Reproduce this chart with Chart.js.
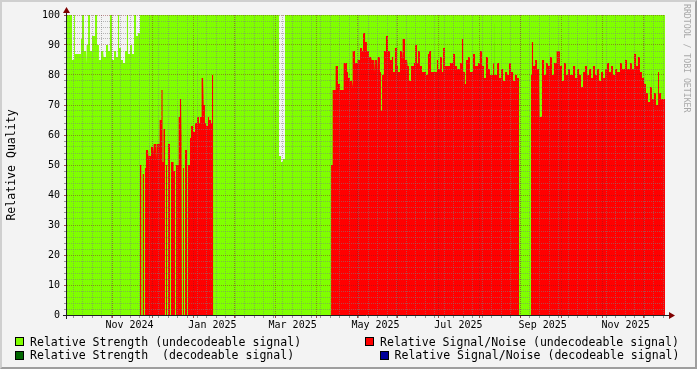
<!DOCTYPE html>
<html>
<head>
<meta charset="utf-8">
<script src="https://cdn.jsdelivr.net/npm/chart.js@4.4.0/dist/chart.umd.min.js"></script>
<style>
  html, body { margin: 0; padding: 0; background: #F3F3F3; }
  #wrap { position: relative; width: 697px; height: 369px; background: #F3F3F3; overflow: hidden;
          font-family: "DejaVu Sans Mono", monospace; color: #000; }
  #c { position: absolute; left: 0; top: 0; }
  .shade { position: absolute; left: 0; top: 0; width: 697px; height: 369px; box-sizing: border-box;
           border-top: 2px solid #CFCFCF; border-left: 2px solid #CFCFCF;
           border-right: 2px solid #9E9E9E; border-bottom: 2px solid #9E9E9E; pointer-events: none; }
  .key { position: absolute; width: 7px; height: 7px; border: 1px solid #000; }
  .txt { position: absolute; font-size: 11.55px; line-height: 14px; white-space: pre; }
  #mark { position: absolute; left: 682px; top: 4px; writing-mode: vertical-rl; font-size: 8.2px;
          line-height: 10px; color: #A8A8A8; white-space: pre; }
</style>
</head>
<body>
<div id="wrap">
  <canvas id="c" width="697" height="369"></canvas>
  <div id="mark">RRDTOOL / TOBI OETIKER</div>

  <div class="key" style="left:15px;top:337px;background:#80FF00"></div>
  <div class="txt" style="left:30px;top:334.5px">Relative Strength (undecodeable signal)</div>
  <div class="key" style="left:365px;top:337px;background:#FF0000"></div>
  <div class="txt" style="left:380px;top:334.5px">Relative Signal/Noise (undecodeable signal)</div>

  <div class="key" style="left:15px;top:350.5px;background:#006600"></div>
  <div class="txt" style="left:30px;top:347.5px">Relative Strength  (decodeable signal)</div>
  <div class="key" style="left:379.5px;top:350.5px;background:#000099"></div>
  <div class="txt" style="left:394.5px;top:347.5px">Relative Signal/Noise (decodeable signal)</div>

  <div class="shade"></div>
</div>
<script>
// x = days since the left edge of the graph (mid Sep 2024), span ~440 days
const spanDays = 440;

// month labels on the time axis
const monthDays = [46, 107, 166, 227, 288, 350, 411];
const monthLabels = ['Nov 2024', 'Jan 2025', 'Mar 2025', 'May 2025', 'Jul 2025', 'Sep 2025', 'Nov 2025'];

// each step: [start day, value]; value holds until next step; null = no data
const greenSteps = [
  [0, 100], [3.7, 85], [5.2, 100], [5.9, 87], [8.1, 100], [8.8, 87], [10.3, 92], [11.0, 100],
  [12.5, 88], [14.0, 84], [14.7, 90], [15.5, 100], [16.9, 88], [18.4, 93], [20.6, 100], [22.1, 90],
  [23.5, 85], [25.0, 88], [26.5, 100], [27.2, 86], [28.7, 90], [30.2, 88], [31.6, 100], [33.1, 85],
  [34.6, 88], [36.1, 86], [37.5, 100], [38.3, 89], [39.7, 85], [41.2, 84], [42.7, 88], [44.1, 100],
  [44.9, 87], [46.4, 90], [47.8, 87], [49.3, 100], [50.8, 93], [52.2, 94], [53.7, 100],
  [156.0, 53], [157.5, 51], [158.9, 52], [160.4, 100], [440, null]
];

const darkGreenSteps = [[314.2, 98], [314.9, null], [429.7, 84], [430.4, null]];

const redSteps = [
  // Oct - Dec 2024
  [53.7, 50], [54.8, null], [55.6, 47], [56.7, null], [57.4, 49], [58.1, 55], [59.6, 52], [60.3, 53],
  [61.8, 56], [63.3, 54], [64.0, 57], [65.5, 52], [66.2, 57], [67.7, 59], [68.4, 65], [69.5, 75],
  [70.3, 51], [71.0, 62], [72.1, null], [72.8, 50], [73.6, null], [74.3, 57], [75.8, null], [76.5, 51],
  [78.4, 48], [79.5, null], [80.2, 50], [81.7, 56], [82.4, 66], [83.1, 72], [83.9, 60], [84.6, null],
  [85.4, 49], [86.1, null], [86.8, 55], [88.3, null], [89.0, 50], [90.5, 59], [91.2, 63], [92.7, 61],
  [94.2, 64], [95.7, 66], [97.1, 64], [97.9, 66], [98.6, 73], [99.3, 79], [100.1, 77], [100.8, 70],
  [101.5, 64], [102.3, 63], [103.7, 66], [104.5, 65], [106.0, 64], [106.7, 80], [107.6, null],
  // Apr - Aug 2025
  [194.3, 50], [195.0, 52], [195.7, 75], [197.2, 80], [197.9, 83], [199.4, 77], [200.9, 75], [203.1, 79],
  [203.8, 84], [206.0, 81], [206.8, 79], [208.2, 78], [209.7, 76], [210.4, 88], [211.9, 84], [213.4, 88],
  [214.1, 85], [215.6, 89], [217.1, 88], [217.8, 94], [219.3, 91], [220.7, 88], [222.2, 86], [223.7, 91],
  [224.4, 85], [225.9, 81], [226.6, 85], [228.1, 81], [228.8, 86], [230.3, 81], [231.0, 68], [231.8, 80],
  [233.2, 88], [234.7, 93], [236.2, 88], [237.7, 85], [239.1, 86], [239.9, 81], [241.3, 89], [242.8, 83],
  [243.5, 81], [245.0, 88], [246.5, 85], [247.2, 92], [248.7, 85], [250.2, 90], [250.9, 83], [251.6, 78],
  [253.1, 83], [255.3, 84], [256.1, 90], [257.5, 84], [258.3, 88], [259.7, 83], [261.2, 81], [264.2, 80],
  [265.6, 87], [266.4, 88], [267.8, 81], [269.3, 89], [270.0, 81], [272.2, 85], [273.0, 82], [274.5, 86],
  [275.9, 81], [276.7, 89], [278.1, 83], [279.6, 87], [280.3, 83], [281.8, 84], [284.0, 87], [285.5, 83],
  [287.0, 82], [289.2, 84], [290.6, 92], [291.4, 81], [292.8, 77], [293.6, 85], [295.1, 86], [296.5, 81],
  [298.7, 87], [300.2, 83], [302.4, 84], [303.9, 88], [305.4, 83], [306.8, 79], [308.3, 86], [309.8, 82],
  [311.2, 80], [313.5, 84], [314.2, 80], [316.4, 84], [317.9, 79], [319.3, 82], [320.8, 78], [322.3, 81],
  [323.8, 80], [325.2, 84], [326.7, 81], [328.2, 78], [329.6, 80], [331.1, 79], [332.6, null],
  // Sep - Nov 2025
  [341.4, 80], [342.1, 91], [342.9, 83], [344.4, 85], [345.8, 82], [347.3, 85], [348.0, 66], [349.5, 85],
  [351.0, 80], [352.5, 84], [353.9, 83], [355.4, 86], [356.9, 80], [358.3, 84], [359.8, 93], [360.5, 88],
  [362.7, 83], [364.2, 78], [365.7, 84], [367.2, 80], [368.6, 82], [370.1, 80], [372.3, 83], [373.8, 79],
  [375.3, 82], [376.7, 80], [378.2, 76], [379.7, 81], [381.1, 83], [382.6, 80], [384.1, 82], [385.6, 79],
  [387.0, 83], [388.5, 80], [390.0, 82], [391.4, 78], [392.9, 81], [394.4, 79], [395.9, 82], [397.3, 84],
  [398.8, 81], [400.3, 83], [401.7, 80], [403.2, 82], [404.7, 81], [406.9, 84], [408.4, 82], [410.6, 85],
  [412.0, 82], [414.3, 84], [415.7, 82], [417.2, 87], [418.7, 83], [420.1, 86], [421.6, 81], [423.1, 79],
  [424.6, 77], [426.0, 74], [427.5, 71], [429.0, 76], [430.4, 72], [431.9, 74], [433.4, 70], [434.9, 81],
  [435.6, 74], [437.1, 72], [440.0, null]
];

const blueSteps = [];

const FONT = '"DejaVu Sans Mono", monospace';
const GRID_MINOR = 'rgba(128, 128, 128, 0.55)';
const GRID_MAJOR = 'rgba(130, 30, 30, 0.45)';

// turn steps into flat-topped polygon points
function stepsToPoints(steps) {
  const pts = [];
  for (let i = 0; i < steps.length; i++) {
    const [start, value] = steps[i];
    if (value === null) {
      pts.push({ x: start, y: null });
      continue;
    }
    const end = i + 1 < steps.length ? steps[i + 1][0] : start;
    pts.push({ x: start, y: value }, { x: end, y: value });
  }
  return pts;
}

function area(label, steps, color, order) {
  return {
    label,
    data: stepsToPoints(steps),
    backgroundColor: color,
    borderColor: 'rgba(0,0,0,0)',
    borderWidth: 0,
    pointRadius: 0,
    fill: 'origin',
    spanGaps: false,
    order
  };
}

// dotted time grid, axes and arrows like rrdtool draws them
const rrdFrame = {
  id: 'rrdFrame',
  afterDatasetsDraw(chart) {
    const { ctx, chartArea: a, scales: { x } } = chart;
    ctx.save();
    ctx.lineWidth = 1;
    ctx.setLineDash([1, 1]);
    const vline = (d, color) => {
      const px = Math.round(x.getPixelForValue(d)) + 0.5;
      ctx.strokeStyle = color;
      ctx.beginPath();
      ctx.moveTo(px, a.top);
      ctx.lineTo(px, a.bottom);
      ctx.stroke();
    };
    for (let d = 4.3; d < spanDays; d += 7) vline(d, GRID_MINOR);
    for (let d = 32.8; d < spanDays; d += 30.05) vline(d, GRID_MAJOR);
    ctx.restore();
  },
  afterDraw(chart) {
    const { ctx, chartArea: a, scales: { x } } = chart;
    ctx.save();
    // small ticks under the time axis
    ctx.lineWidth = 1;
    const tick = (d, color) => {
      const px = Math.round(x.getPixelForValue(d)) + 0.5;
      ctx.strokeStyle = color;
      ctx.beginPath();
      ctx.moveTo(px, a.bottom);
      ctx.lineTo(px, a.bottom + 3);
      ctx.stroke();
    };
    for (let d = 4.3; d < spanDays; d += 7) tick(d, 'rgba(128,128,128,0.8)');
    for (let d = 32.8; d < spanDays; d += 30.05) tick(d, 'rgba(130,30,30,0.8)');

    // axes
    ctx.strokeStyle = '#202020';
    ctx.beginPath();
    ctx.moveTo(a.left - 4, a.bottom + 0.5);
    ctx.lineTo(a.right + 5, a.bottom + 0.5);
    ctx.moveTo(a.left - 0.5, a.bottom + 4);
    ctx.lineTo(a.left - 0.5, a.top - 4);
    ctx.stroke();

    // arrows
    ctx.fillStyle = '#7F0000';
    ctx.beginPath();
    ctx.moveTo(a.right + 4, a.bottom - 3);
    ctx.lineTo(a.right + 10, a.bottom + 0.5);
    ctx.lineTo(a.right + 4, a.bottom + 4);
    ctx.closePath();
    ctx.fill();
    ctx.beginPath();
    ctx.moveTo(a.left - 4, a.top - 2);
    ctx.lineTo(a.left - 0.5, a.top - 8);
    ctx.lineTo(a.left + 3, a.top - 2);
    ctx.closePath();
    ctx.fill();
    ctx.restore();
  }
};

new Chart(document.getElementById('c'), {
  type: 'line',
  data: {
    datasets: [
      area('Relative Strength (undecodeable signal)', greenSteps, '#80FF00', 4),
      area('Relative Strength  (decodeable signal)', darkGreenSteps, '#006600', 3),
      area('Relative Signal/Noise (undecodeable signal)', redSteps, '#FF0000', 2),
      area('Relative Signal/Noise (decodeable signal)', blueSteps, '#000099', 1)
    ]
  },
  options: {
    responsive: false,
    animation: false,
    devicePixelRatio: 1,
    layout: { padding: { top: 15, right: 32, bottom: 0, left: 0 } },
    plugins: { legend: { display: false }, tooltip: { enabled: false } },
    elements: { line: { tension: 0 }, point: { radius: 0 } },
    scales: {
      x: {
        type: 'linear',
        min: 0,
        max: spanDays,
        afterBuildTicks: s => { s.ticks = monthDays.map(v => ({ value: v })); },
        afterFit: s => { s.height = 54; },
        ticks: {
          autoSkip: false, maxRotation: 0, minRotation: 0, padding: 4,
          color: '#000', font: { family: FONT, size: 10 },
          callback: (v, i) => monthLabels[i]
        },
        grid: { display: false, drawTicks: false, tickLength: 0 },
        border: { display: false }
      },
      y: {
        min: 0,
        max: 100,
        afterBuildTicks: s => {
          const t = [];
          for (let v = 0; v <= 100; v += 2) t.push({ value: v });
          s.ticks = t;
        },
        afterFit: s => { s.width = 67; },
        ticks: {
          autoSkip: false, padding: 4,
          color: '#000', font: { family: FONT, size: 10 },
          callback: v => (v % 10 === 0 ? v : '')
        },
        grid: {
          z: 1,
          tickLength: 3,
          color: c => (c.tick && c.tick.value % 10 === 0 ? GRID_MAJOR : GRID_MINOR),
          tickColor: c => (c.tick && c.tick.value % 10 === 0 ? 'rgba(130,30,30,0.8)' : 'rgba(128,128,128,0.8)')
        },
        border: { display: false, dash: [1, 1] },
        title: {
          display: true,
          text: 'Relative Quality',
          color: '#000',
          font: { family: FONT, size: 11.55 },
          padding: { top: 5, bottom: 0 }
        }
      }
    }
  },
  plugins: [rrdFrame]
});
</script>
</body>
</html>
